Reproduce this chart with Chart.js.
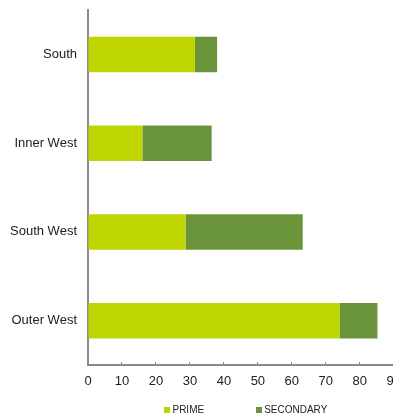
<!DOCTYPE html>
<html>
<head>
<meta charset="utf-8">
<script src="https://cdn.jsdelivr.net/npm/chart.js@4/dist/chart.umd.min.js"></script>
<style>
  html, body { margin: 0; padding: 0; background: #fff; overflow: hidden; }
  #wrap { width: 413px; height: 416px; }
</style>
</head>
<body>
<div id="wrap"><canvas id="c" width="413" height="416"></canvas></div>
<script>
// Regions and their stacked PRIME / SECONDARY values
const regions = ['South', 'Inner West', 'South West', 'Outer West'];
const primeValues = [31.5, 16, 28.7, 74];
const secondaryValues = [6.5, 20.4, 34.5, 11.2];
const seriesNames = ['PRIME', 'SECONDARY'];
const xTicks = [0, 10, 20, 30, 40, 50, 60, 70, 80, 90];

const PRIME_COLOR = '#c0d600';
const SECONDARY_COLOR = '#6a943a';
const AXIS_COLOR = '#8a8a8a';
const TEXT_COLOR = '#222222';
const FONT = '"Liberation Sans", Arial, Helvetica, sans-serif';

// Small square legend drawn under the x axis
const bottomLegend = {
  id: 'bottomLegend',
  afterDraw(chart) {
    const ctx = chart.ctx;
    const area = chart.chartArea;
    const box = 6, textGap = 2, itemGap = 52;
    ctx.save();
    ctx.font = '10px ' + FONT;
    ctx.textBaseline = 'middle';
    ctx.textAlign = 'left';
    const items = chart.data.datasets.map(ds => ({
      text: ds.label,
      color: ds.backgroundColor,
      w: box + textGap + ctx.measureText(ds.label).width
    }));
    const total = items.reduce((s, it) => s + it.w, 0) + itemGap * (items.length - 1);
    let x = (area.left + area.right) / 2 + 5 - total / 2;
    const y = 410;
    items.forEach(it => {
      ctx.fillStyle = it.color;
      ctx.fillRect(Math.round(x), y - box / 2, box, box);
      ctx.fillStyle = TEXT_COLOR;
      ctx.fillText(it.text, x + box + textGap, y + 0.5);
      x += it.w + itemGap;
    });
    ctx.restore();
  }
};

new Chart(document.getElementById('c'), {
  type: 'bar',
  data: {
    labels: regions,
    datasets: [
      { label: seriesNames[0], data: primeValues, backgroundColor: PRIME_COLOR },
      { label: seriesNames[1], data: secondaryValues, backgroundColor: SECONDARY_COLOR }
    ]
  },
  options: {
    indexAxis: 'y',
    responsive: false,
    animation: false,
    devicePixelRatio: 1,
    layout: { padding: { top: 10, right: 13, bottom: 25, left: 0 } },
    datasets: { bar: { barPercentage: 0.4, categoryPercentage: 1 } },
    plugins: {
      legend: { display: false },
      tooltip: { enabled: false }
    },
    scales: {
      x: {
        stacked: true,
        min: 0,
        max: 90,
        afterBuildTicks(scale) { scale.ticks = xTicks.map(v => ({ value: v })); },
        afterFit(scale) { scale.height = 26; },
        grid: {
          drawOnChartArea: false,
          drawTicks: true,
          tickLength: -3,
          color: AXIS_COLOR,
          lineWidth: 1
        },
        border: { display: true, color: AXIS_COLOR, width: 2 },
        ticks: {
          padding: 12,
          color: TEXT_COLOR,
          font: { family: FONT, size: 13 },
          maxRotation: 0
        }
      },
      y: {
        stacked: true,
        afterFit(scale) { scale.width = 88; },
        // tick marks kept invisible; their length sets the label gap
        grid: { drawOnChartArea: false, drawTicks: true, tickLength: 11, color: 'rgba(0,0,0,0)' },
        border: { display: true, color: AXIS_COLOR, width: 2 },
        ticks: {
          padding: 0,
          color: TEXT_COLOR,
          font: { family: FONT, size: 13 }
        }
      }
    }
  },
  plugins: [bottomLegend]
});
</script>
</body>
</html>
